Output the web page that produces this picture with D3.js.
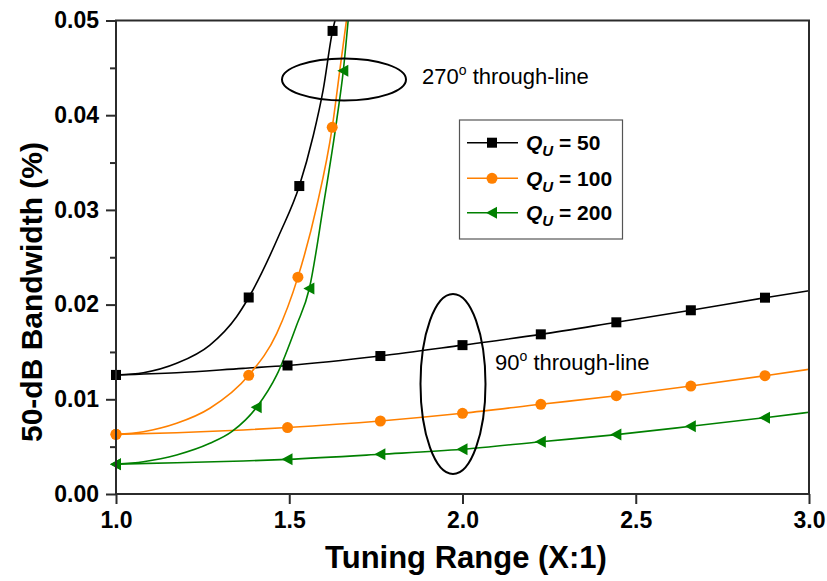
<!DOCTYPE html>
<html>
<head>
<meta charset="utf-8">
<script src="https://cdn.jsdelivr.net/npm/d3@7"></script>
<style>
  html, body { margin: 0; padding: 0; background: #fff; }
  svg { display: block; font-family: "Liberation Sans", Arial, Helvetica, sans-serif; }
</style>
</head>
<body>
<svg id="chart" width="827" height="581"></svg>
<script>
// ---- Data -------------------------------------------------------------
// 90° through-line: shared tuning-range samples for the three Q_U curves
const tuning90 = [1.0, 1.175, 1.367, 1.495, 1.763, 2.0, 2.226, 2.444, 2.659, 2.873, 3.0];
const bw90Q50  = [0.01257, 0.01281, 0.01327, 0.01357, 0.01457, 0.01572, 0.01686, 0.01813, 0.0194, 0.02073, 0.02147];
const bw90Q100 = [0.0063, 0.00647, 0.00676, 0.00702, 0.00771, 0.00852, 0.00947, 0.01038, 0.0114, 0.01249, 0.01317];
const bw90Q200 = [0.00315, 0.0033, 0.00348, 0.00366, 0.00419, 0.00472, 0.00552, 0.00627, 0.00715, 0.00806, 0.00863];
const marks90  = [0, 3, 4, 5, 6, 7, 8, 9];

// 270° through-line
const tuning270Q50 = [1.0, 1.079, 1.175, 1.271, 1.348, 1.383, 1.473, 1.529, 1.569, 1.598, 1.625, 1.632];
const bw270Q50     = [0.01257, 0.01281, 0.0138, 0.01573, 0.01872, 0.02075, 0.02753, 0.03252, 0.0378, 0.0427, 0.0489, 0.05];
const marks270Q50  = [0, 5, 7, 10];

const tuning270Q100 = [1.0, 1.079, 1.175, 1.271, 1.383, 1.464, 1.525, 1.579, 1.624, 1.646, 1.665];
const bw270Q100     = [0.0063, 0.00658, 0.00746, 0.00905, 0.01253, 0.01697, 0.0229, 0.03034, 0.03872, 0.04477, 0.05];
const marks270Q100  = [0, 4, 6, 8];

const tuning270Q200 = [1.0, 1.079, 1.175, 1.271, 1.334, 1.406, 1.464, 1.521, 1.558, 1.598, 1.637, 1.656, 1.67];
const bw270Q200     = [0.00315, 0.00341, 0.00412, 0.00535, 0.00658, 0.00916, 0.01257, 0.0178, 0.0217, 0.03034, 0.03949, 0.0447, 0.05];
const marks270Q200  = [0, 5, 8, 11];

const legendLabels = ["50", "100", "200"];
const xTicks = [1.0, 1.5, 2.0, 2.5, 3.0];
const yTicks = [0.00, 0.01, 0.02, 0.03, 0.04, 0.05];
const yMinorTicks = [0.005, 0.015, 0.025, 0.035, 0.045];

// ---- Layout -----------------------------------------------------------
const svg = d3.select("#chart");
const plotLeft = 116, plotRight = 809, plotTop = 20.5, plotBottom = 494;
const x = d3.scaleLinear().domain([1, 3]).range([plotLeft, plotRight]);
const y = d3.scaleLinear().domain([0, 0.05]).range([plotBottom, plotTop]);

const styles = [
  { color: "#000000", shape: "square" },
  { color: "#ff8000", shape: "circle" },
  { color: "#008000", shape: "triangle" }
];

function zip(xs, ys) { return xs.map((v, i) => ({ x: v, y: ys[i] })); }

const series = [
  { pts: zip(tuning90, bw90Q50),  marks: marks90, style: styles[0] },
  { pts: zip(tuning90, bw90Q100), marks: marks90, style: styles[1] },
  { pts: zip(tuning90, bw90Q200), marks: marks90, style: styles[2] },
  { pts: zip(tuning270Q50, bw270Q50),   marks: marks270Q50,  style: styles[0] },
  { pts: zip(tuning270Q100, bw270Q100), marks: marks270Q100, style: styles[1] },
  { pts: zip(tuning270Q200, bw270Q200), marks: marks270Q200, style: styles[2] }
];

const line = d3.line().x(d => x(d.x)).y(d => y(d.y)).curve(d3.curveMonotoneX);

function drawMarker(g, shape, color, cx, cy) {
  if (shape === "square") {
    g.append("rect").attr("x", cx - 5).attr("y", cy - 5).attr("width", 10).attr("height", 10).attr("fill", color);
  } else if (shape === "circle") {
    g.append("circle").attr("cx", cx).attr("cy", cy).attr("r", 5.5).attr("fill", color);
  } else {
    g.append("path").attr("d", `M${cx - 6},${cy} L${cx + 5},${cy - 6} L${cx + 5},${cy + 6} Z`).attr("fill", color);
  }
}

// ---- Curves and markers -----------------------------------------------
const plot = svg.append("g");
series.forEach(s => {
  plot.append("path").datum(s.pts)
    .attr("d", line).attr("fill", "none")
    .attr("stroke", s.style.color).attr("stroke-width", 1.6);
});
series.forEach(s => {
  s.marks.forEach(i => drawMarker(plot, s.style.shape, s.style.color, x(s.pts[i].x), y(s.pts[i].y)));
});

// ---- Axes ---------------------------------------------------------------
const axisColor = "#2b2b2b";
const xAxis = svg.append("g").attr("transform", `translate(0,${plotBottom})`)
  .call(d3.axisBottom(x).tickValues(xTicks).tickFormat(d3.format(".1f")).tickSize(10).tickSizeOuter(0).tickPadding(8));
const yAxis = svg.append("g").attr("transform", `translate(${plotLeft},0)`)
  .call(d3.axisLeft(y).tickValues(yTicks).tickFormat(d3.format(".2f")).tickSize(10).tickSizeOuter(0).tickPadding(7));
svg.append("g").attr("transform", `translate(${plotLeft},0)`)
  .call(d3.axisLeft(y).tickValues(yMinorTicks).tickFormat("").tickSize(6).tickSizeOuter(0))
  .select(".domain").remove();

[xAxis, yAxis].forEach(a => {
  a.selectAll(".domain").remove();
  a.selectAll("text").attr("fill", "#000").attr("font-size", 23).attr("font-weight", "bold")
    .attr("font-family", "'Liberation Sans', Arial, sans-serif");
});
svg.selectAll("g.tick line").attr("stroke", axisColor).attr("stroke-width", 2);

// plot frame
svg.append("rect").attr("x", plotLeft).attr("y", plotTop)
  .attr("width", plotRight - plotLeft).attr("height", plotBottom - plotTop)
  .attr("fill", "none").attr("stroke", axisColor).attr("stroke-width", 2);

// axis titles
svg.append("text").attr("x", 466).attr("y", 568).attr("text-anchor", "middle")
  .attr("font-size", 31).attr("font-weight", "bold").text("Tuning Range (X:1)");
svg.append("text").attr("transform", "translate(42,292) rotate(-90)").attr("text-anchor", "middle")
  .attr("font-size", 30).attr("font-weight", "bold").text("50-dB Bandwidth (%)");

// ---- Annotations ------------------------------------------------------
svg.append("ellipse").attr("cx", 344).attr("cy", 79.5).attr("rx", 62).attr("ry", 21)
  .attr("fill", "none").attr("stroke", "#000").attr("stroke-width", 2);
svg.append("ellipse").attr("cx", 453).attr("cy", 384).attr("rx", 32.5).attr("ry", 90)
  .attr("fill", "none").attr("stroke", "#000").attr("stroke-width", 2);

function annot(tx, ty, deg) {
  const t = svg.append("text").attr("x", tx).attr("y", ty).attr("font-size", 22).attr("fill", "#000");
  t.append("tspan").text(deg);
  t.append("tspan").attr("font-size", 14).attr("dy", -9).text("o");
  t.append("tspan").attr("dy", 9).text(" through-line");
}
annot(422, 84, "270");
annot(495, 370, "90");

// ---- Legend -----------------------------------------------------------
const lg = svg.append("g");
lg.append("rect").attr("x", 459.5).attr("y", 120).attr("width", 163).attr("height", 119)
  .attr("fill", "#fff").attr("stroke", "#555").attr("stroke-width", 1.2);
const rowY = [142.7, 178.3, 212.7];
legendLabels.forEach((lab, i) => {
  const st = styles[i];
  lg.append("line").attr("x1", 467).attr("x2", 518).attr("y1", rowY[i]).attr("y2", rowY[i])
    .attr("stroke", st.color).attr("stroke-width", 1.6);
  drawMarker(lg, st.shape, st.color, 492, rowY[i]);
  const t = lg.append("text").attr("x", 526).attr("y", rowY[i] + 7.5)
    .attr("font-size", 21).attr("font-weight", "bold").attr("fill", "#000");
  t.append("tspan").attr("font-style", "italic").text("Q");
  t.append("tspan").attr("font-style", "italic").attr("font-size", 15).attr("dy", 6).text("U");
  t.append("tspan").attr("dy", -6).text(" = " + lab);
});
</script>
</body>
</html>
